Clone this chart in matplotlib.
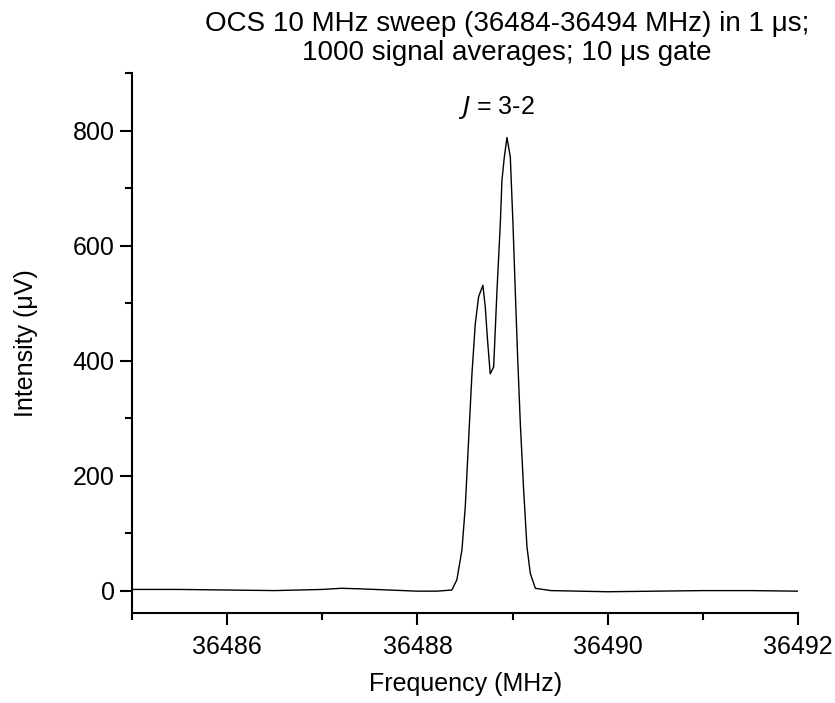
import matplotlib.pyplot as plt
from matplotlib.ticker import MultipleLocator

plt.rcParams['font.family'] = ['Liberation Sans', 'DejaVu Sans']

# spectrum (MHz, microvolts)
freq = [36485.0, 36485.5, 36486.0, 36486.5, 36487.0, 36487.2, 36487.4, 36487.7,
        36488.0, 36488.2, 36488.361, 36488.414, 36488.467, 36488.502, 36488.537,
        36488.572, 36488.607, 36488.642, 36488.687, 36488.712, 36488.736, 36488.764,
        36488.800, 36488.835, 36488.870, 36488.887, 36488.912, 36488.940, 36488.975,
        36489.003, 36489.027, 36489.052, 36489.080, 36489.115, 36489.150, 36489.185,
        36489.238, 36489.4, 36489.7, 36490.0, 36490.5, 36491.0, 36491.5, 36492.0]
intensity = [2, 2, 1, 0, 2, 4, 3, 1,
             -1, -1, 1, 19, 71, 146, 262,
             377, 464, 511, 531, 493, 435, 377,
             389, 522, 638, 713, 754, 788, 754,
             638, 522, 406, 291, 175, 76, 30,
             4, 0, -1, -2, -1, 0, 0, -1]

xticks = [36486, 36488, 36490, 36492]
yticks = [0, 200, 400, 600, 800]

fig = plt.figure(figsize=(8.35, 7.03), dpi=100)
ax = fig.add_axes([0.158, 0.128, 0.798, 0.768])
ax.plot(freq, intensity, color='black', lw=1.0)

ax.set_xlim(36485, 36492)
ax.set_ylim(-39, 900)
ax.set_xticks(xticks)
ax.set_yticks(yticks)
ax.xaxis.set_minor_locator(MultipleLocator(1))
ax.yaxis.set_minor_locator(MultipleLocator(100))
ax.ticklabel_format(useOffset=False, style='plain', axis='x')

for s in ['top', 'right']:
    ax.spines[s].set_visible(False)
for s in ['left', 'bottom']:
    ax.spines[s].set_linewidth(1.5)

ax.tick_params(which='major', direction='out', length=8.5, width=1.5, labelsize=18, pad=4)
ax.tick_params(which='minor', direction='out', length=5, width=1.5)
ax.tick_params(axis='x', which='major', pad=7)

ax.set_xlabel('Frequency (MHz)', fontsize=18, labelpad=10)
ax.set_ylabel('Intensity (\u03bcV)', fontsize=18, labelpad=25)

fig.text(0.607, 0.985, 'OCS 10 MHz sweep (36484-36494 MHz) in 1 \u03bcs;\n1000 signal averages; 10 \u03bcs gate',
         ha='center', va='top', fontsize=20, linespacing=1.15)
ax.text(36488.83, 840, '$J$ = 3-2', ha='center', va='center', fontsize=18,
        math_fontfamily='dejavusans')

fig.savefig('out.png', dpi=100)
